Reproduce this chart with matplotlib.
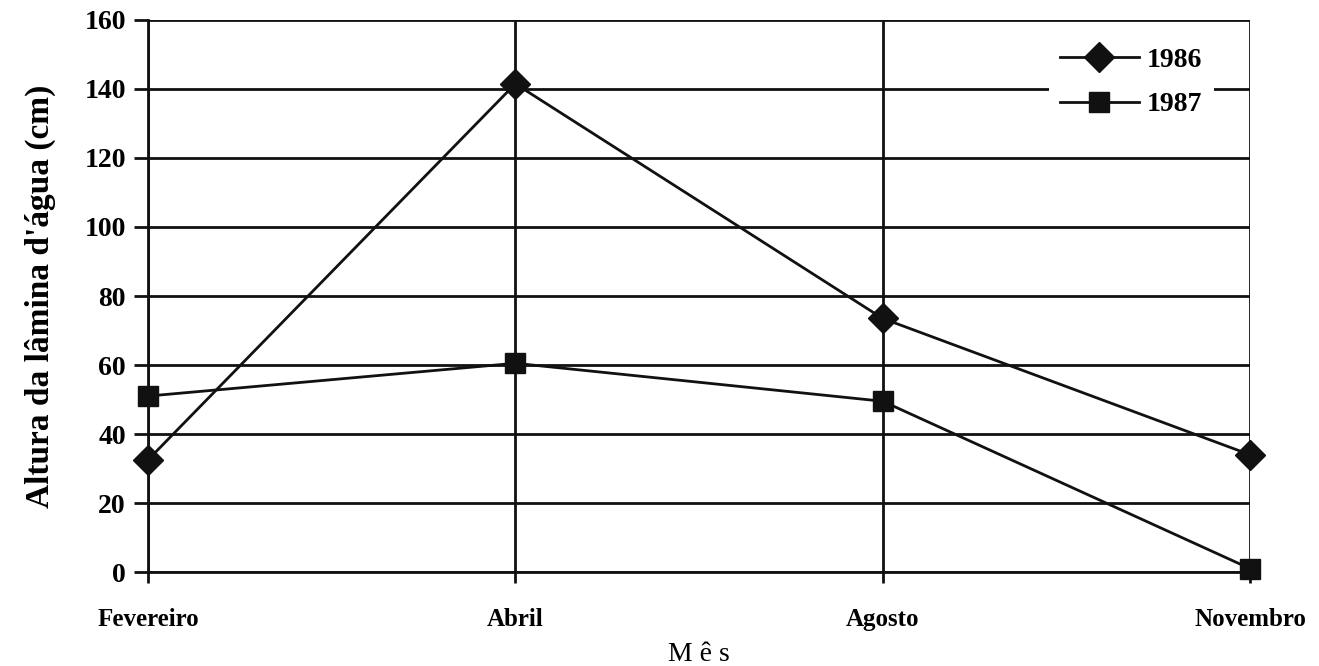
import matplotlib.pyplot as plt

meses = ['Fevereiro', 'Abril', 'Agosto', 'Novembro']
altura_1986 = [32.5, 141.5, 73.5, 34]
altura_1987 = [51, 60.5, 49.5, 1]

plt.rcParams['font.family'] = ['Liberation Serif', 'DejaVu Serif']

fig = plt.figure(figsize=(13.19, 6.66), dpi=100)
ax = fig.add_axes([0.1122, 0.1411, 0.8355, 0.8289])

x = range(len(meses))
ax.plot(x, altura_1986, color='#111111', lw=2, marker='D', ms=15, label='1986', clip_on=False, zorder=3)
ax.plot(x, altura_1987, color='#111111', lw=2, marker='s', ms=15, label='1987', clip_on=False, zorder=3)

ax.set_xlim(0, 3)
ax.set_ylim(0, 160)
ax.set_yticks(range(0, 161, 20))
ax.set_xticks(list(x))
ax.set_xticklabels(meses, fontsize=18, fontweight='bold')
for t in ax.get_yticklabels():
    t.set_fontsize(20)
    t.set_fontweight('bold')

ax.grid(True, color='#111111', lw=2)
ax.set_axisbelow(True)
for s in ['top', 'right']:
    ax.spines[s].set_visible(False)
for s in ['left', 'bottom']:
    ax.spines[s].set_linewidth(2)
    ax.spines[s].set_color('#111111')
ax.tick_params(axis='y', direction='out', length=10, width=2, pad=6, color='#111111')
ax.tick_params(axis='x', direction='out', length=8, width=2, pad=18, color='#111111')

ax.set_ylabel("Altura da lâmina d'água (cm)", fontsize=24, fontweight='bold', labelpad=20)
ax.set_xlabel('M ê s', fontsize=20, labelpad=8)

leg = ax.legend(loc='upper right', bbox_to_anchor=(0.967, 0.971), frameon=True,
                handlelength=2.85, borderpad=0.4, labelspacing=0.7,
                handletextpad=0.3, borderaxespad=0, prop={'weight': 'bold', 'size': 20})
leg.get_frame().set_edgecolor('none')
leg.get_frame().set_facecolor('white')
leg.get_frame().set_alpha(1)
leg.get_frame().set_boxstyle('square', pad=0)

fig.savefig('out.png', dpi=100)
